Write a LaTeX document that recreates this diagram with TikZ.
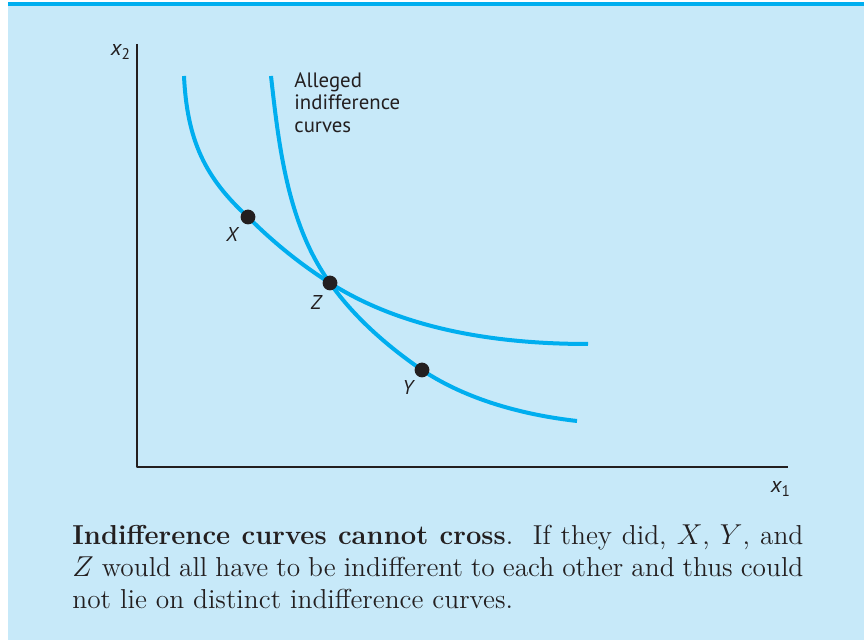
\documentclass[tikz,border=0pt]{standalone}
\usepackage{fontspec}
\newfontfamily\labelfont{PT Sans}
\definecolor{panelblue}{HTML}{C7E9F9}
\definecolor{curveblue}{HTML}{00AEEF}
\definecolor{inkgray}{HTML}{231F20}
\tikzset{
  icurve/.style={curveblue,line width=2pt},
  bundle/.style={circle,fill=inkgray,inner sep=0pt,minimum size=7.4pt},
  ptlabel/.style={font=\labelfont\fontsize{10}{12}\selectfont\itshape,text=inkgray,inner sep=0pt},
  axlabel/.style={font=\labelfont\fontsize{11}{13}\selectfont\itshape,text=inkgray,inner sep=0pt},
}
\begin{document}
\begin{tikzpicture}[x=0.5pt,y=-0.5pt,line join=round]
  \useasboundingbox (0,0) rectangle (864,640);
  \fill[panelblue] (8,2) rectangle (864,640);
  \fill[curveblue] (8,2) rectangle (864,6);
  % axes
  \draw[inkgray,line width=1pt] (137,44) -- (137,467) -- (788,467);
  \node[axlabel] (xtwo) at (121,52) {x\textsubscript{\upshape 2}};
  \node[axlabel] (xone) at (781,489) {x\textsubscript{\upshape 1}};
  % bundles
  \coordinate (X) at (248,217);
  \coordinate (Z) at (330,283);
  \coordinate (Y) at (422,370);
  % the two curves
  \draw[icurve] (184,76) .. controls (187,140) and (205,178) .. (X)
    .. controls (273,242) and (300,264) .. (Z)
    .. controls (404,330) and (498,344) .. (588,344);
  \draw[icurve] (271,76) .. controls (279,148) and (288,225) .. (Z)
    .. controls (354,317) and (387,346) .. (Y)
    .. controls (467,400) and (524,415) .. (577,421);
  \node[anchor=north west,align=left,inner sep=0pt,text=inkgray,
        font=\labelfont\fontsize{10.4}{11.3}\selectfont] (alleged) at (294,72)
    {Alleged\\indifference\\curves};
  \node[bundle] (Xdot) at (X) {};
  \node[bundle] (Zdot) at (Z) {};
  \node[bundle] (Ydot) at (Y) {};
  \node[ptlabel] (Xlab) at (232,235) {X};
  \node[ptlabel] (Zlab) at (316,303) {Z};
  \node[ptlabel] (Ylab) at (408,388) {Y};
  % caption
  \node[anchor=north west,inner sep=0pt,text width=365.5pt,align=justify,text=inkgray,
        font=\fontsize{13.7}{16}\selectfont] (caption) at (72,524)
    {\textbf{Indifference curves cannot cross}.\ \ If they did, $X$, $Y$, and
     $Z$ would all have to be indifferent to each other and thus could
     not lie on distinct indifference curves.};
\end{tikzpicture}
\end{document}
